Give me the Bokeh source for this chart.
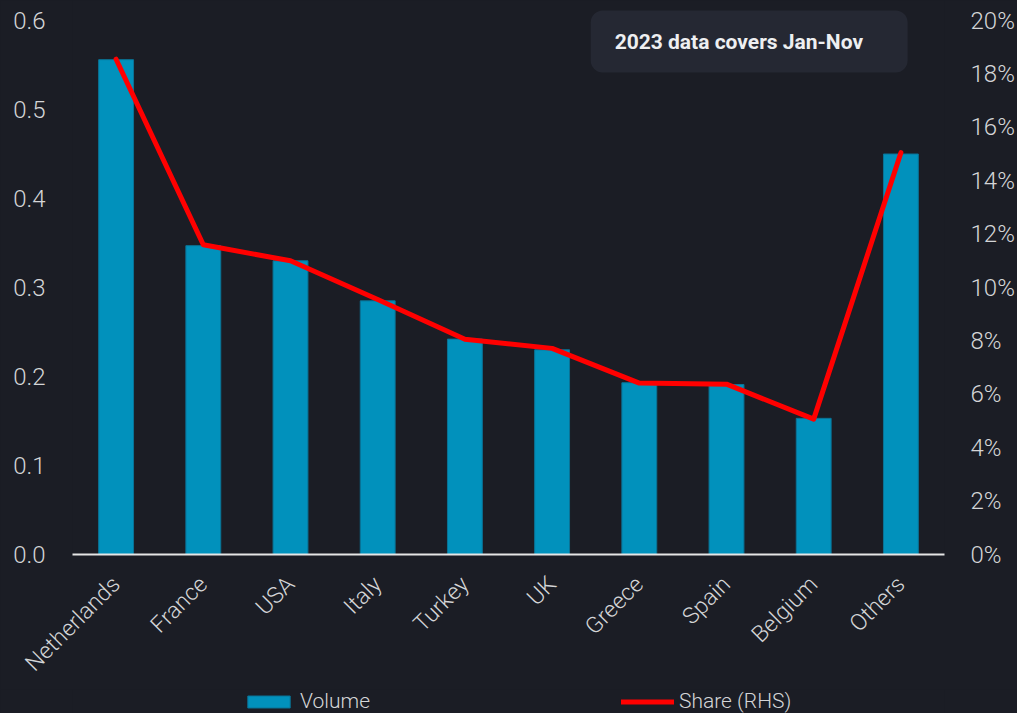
import math
from bokeh.plotting import figure
from bokeh.layouts import column
from bokeh.models import (Range1d, LinearAxis, FixedTicker, NumeralTickFormatter,
                          Legend, LegendItem, Label, BoxAnnotation, ColumnDataSource)
from bokeh.embed import file_html
from bokeh.resources import INLINE

# ---- data ----
categories = ["Netherlands", "France", "USA", "Italy", "Turkey", "UK",
              "Greece", "Spain", "Belgium", "Others"]
volume = [0.556, 0.347, 0.330, 0.285, 0.242, 0.230, 0.193, 0.191, 0.153, 0.450]
share = [0.1855, 0.116, 0.110, 0.0955, 0.0806, 0.0772, 0.0642, 0.0638, 0.0507, 0.1505]
left_ticks = [0.0, 0.1, 0.2, 0.3, 0.4, 0.5, 0.6]
right_ticks = [0.0, 0.02, 0.04, 0.06, 0.08, 0.10, 0.12, 0.14, 0.16, 0.18, 0.20]
series_names = ["Volume", "Share (RHS)"]
note_text = "2023 data covers Jan-Nov"

# ---- style ----
BG = "#1b1d25"
TXT = "#d4d5d7"
BAR = "#0191bc"
BAR_EDGE = "#0a7396"
LINE = "#ff0000"
FONT = "'Roboto Light', Roboto, sans-serif"
W = 1017
FRAME_B = 554
H_MAIN = 689
H_LEG = 713 - H_MAIN
Y_TOP = 0.6 * FRAME_B / (FRAME_B - 20)
CAT_W = (W - 70 - 72) / len(categories)


def yv(py):
    return Y_TOP * (1 - py / FRAME_B)


def xv(px):
    return (px - 72) / CAT_W - 0.5


pos = list(range(len(categories)))
src = ColumnDataSource(dict(x=pos, vol=volume, share=share))

p = figure(width=W, height=H_MAIN,
           x_range=Range1d(-0.5, len(categories) - 0.5),
           y_range=Range1d(0, Y_TOP),
           output_backend="svg", toolbar_location=None,
           min_border_left=72, min_border_right=70,
           min_border_top=0, min_border_bottom=H_MAIN - FRAME_B,
           background_fill_color=BG, border_fill_color=BG)
p.styles = {"background-color": BG}
p.outline_line_color = None
p.extra_y_ranges = {"share": Range1d(0, Y_TOP / 3)}
p.xgrid.visible = False
p.ygrid.visible = False

# note box
box = BoxAnnotation(left=xv(592), right=xv(910), top=yv(10), bottom=yv(72),
                    fill_color="#252833", fill_alpha=1.0, line_color=None,
                    border_radius=12, level="underlay")
p.add_layout(box)

bars = p.vbar(x="x", top="vol", width=0.4, bottom=0, source=src,
              fill_color=BAR, line_color=BAR_EDGE, line_width=1)
ln = p.line(x="x", y="share", source=src, y_range_name="share",
            line_color=LINE, line_width=5, line_join="round", line_cap="round")

# x axis
xa = p.xaxis[0]
xa.ticker = FixedTicker(ticks=pos)
xa.major_label_overrides = {i: c for i, c in zip(pos, categories)}
xa.major_label_orientation = math.pi / 4
xa.major_label_text_font = FONT
xa.major_label_text_font_size = "23px"
xa.major_label_text_color = TXT
xa.major_label_standoff = 20
xa.major_tick_line_color = None
xa.minor_tick_line_color = None
xa.axis_line_color = "#e6e6e6"
xa.axis_line_width = 2

# left axis
ya = p.yaxis[0]
ya.ticker = FixedTicker(ticks=left_ticks)
ya.formatter = NumeralTickFormatter(format="0.0")
ya.major_label_text_font = FONT
ya.major_label_text_font_size = "24px"
ya.major_label_text_color = TXT
ya.major_label_standoff = 21
ya.major_tick_line_color = None
ya.minor_tick_line_color = None
ya.axis_line_color = None

# right axis
ra = LinearAxis(y_range_name="share", ticker=FixedTicker(ticks=right_ticks),
                formatter=NumeralTickFormatter(format="0%"))
ra.major_label_text_font = FONT
ra.major_label_text_font_size = "24px"
ra.major_label_text_color = TXT
ra.major_label_standoff = 20
ra.major_tick_line_color = None
ra.minor_tick_line_color = None
ra.axis_line_color = None
p.add_layout(ra, "right")

# note text
p.add_layout(Label(x=xv(616), y=yv(41), text=note_text,
                   text_baseline="middle", text_align="left",
                   text_font="Roboto", text_font_style="bold",
                   text_font_size="21px", text_color="#eeeff1"))

# ---- legend strip (small figure under the chart; proxies sit outside its ranges) ----
lg = figure(width=W, height=H_LEG, x_range=Range1d(100, 101), y_range=Range1d(100, 101),
            output_backend="svg", toolbar_location=None,
            x_axis_type=None, y_axis_type=None,
            min_border_left=0, min_border_right=0, min_border_top=0, min_border_bottom=0,
            background_fill_color=BG, border_fill_color=BG)
lg.styles = {"background-color": BG}
lg.outline_line_color = None
lg.xgrid.visible = False
lg.ygrid.visible = False
proxy_bar = lg.vbar(x="x", top="vol", width=0.4, source=src,
                    fill_color=BAR, line_color=BAR_EDGE, line_width=1)
proxy_line = lg.line(x="x", y="share", source=src, line_color=LINE, line_width=5,
                     line_cap="round")

for name, rend, xloc in [(series_names[0], proxy_bar, 242 - 72),
                         (series_names[1], proxy_line, 621 - 72)]:
    lg.add_layout(Legend(items=[LegendItem(label=name, renderers=[rend])],
                         location=(xloc, 0), orientation="horizontal",
                         margin=0, padding=0, border_line_color=None,
                         background_fill_alpha=0, glyph_width=53, glyph_height=15,
                         label_standoff=5, label_text_font=FONT,
                         label_text_font_size="21px", label_text_color=TXT))

layout = column(p, lg, spacing=0)
layout.styles = {"background-color": BG}
open("out.html", "w").write(file_html(layout, INLINE))
